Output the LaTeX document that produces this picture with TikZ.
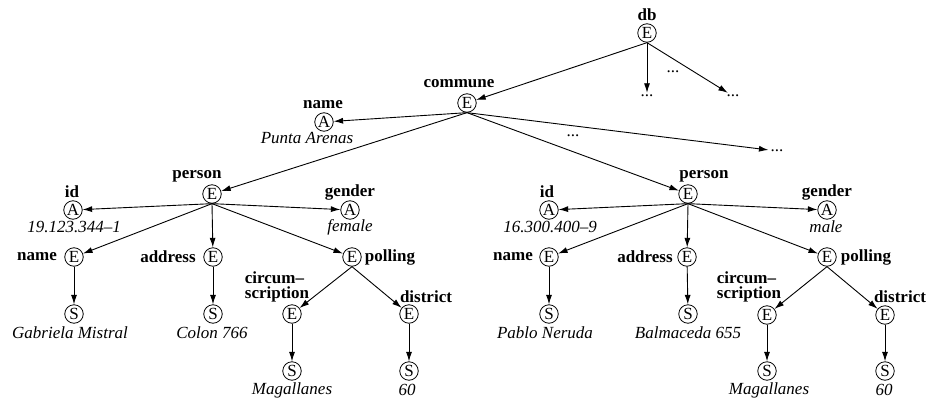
\documentclass[tikz,border=0pt]{standalone}
\usepackage{fontspec}
\setmainfont{Liberation Serif}
\usetikzlibrary{arrows.meta}

\begin{document}
\begin{tikzpicture}[x=1pt,y=-1pt,
    every node/.style={font=\fontsize{17}{17}\selectfont, inner sep=0pt},
    nd/.style={draw, circle, minimum size=18.5pt, line width=0.8pt},
    lb/.style={font=\fontsize{17}{17}\selectfont\bfseries},
    vl/.style={font=\fontsize{17}{17}\selectfont\itshape},
    dots/.style={inner sep=2pt},
    edge/.style={-{Latex[length=9.5pt,width=6pt]}, line width=0.9pt}]
  \useasboundingbox (0,0) rectangle (929,399);

  % root and commune
  \node [nd] (db) at (647,33) {E};
  \node [lb] (dbl) at (647,15) {db};
  \node [dots] (d1) at (647,96) {...};
  \node [dots] (d2) at (733,96) {...};
  \node (d3) at (673,72) {...};
  \node [nd] (commune) at (467,103) {E};
  \node [lb] (communel) at (459,84) {commune};
  \node [dots] (d4) at (777,151) {...};
  \node (d5) at (573,136) {...};
  \node [nd] (cname) at (324,122) {A};
  \node [lb] (cnamel) at (323,105) {name};
  \node [vl] (cnamev) at (307,138) {Punta Arenas};

  % first person
  \node [nd] (pa) at (212,194) {E};
  \node [lb] (pal) at (197,176) {person};
  \node [nd] (paid) at (73,210) {A};
  \node [lb] (paidl) at (72,192) {id};
  \node [vl] (paidv) at (74,227) {19.123.344--1};
  \node [nd] (pagender) at (350,210) {A};
  \node [lb] (pagenderl) at (350,192) {gender};
  \node [vl] (pagenderv) at (350,227) {female};
  \node [nd] (paname) at (74,257) {E};
  \node [lb] (panamel) at (37,257) {name};
  \node [nd] (panames) at (74,314) {S};
  \node [vl] (panamev) at (70,333) {Gabriela Mistral};
  \node [nd] (paaddr) at (213,257) {E};
  \node [lb] (paaddrl) at (168,257) {address};
  \node [nd] (paaddrs) at (213,314) {S};
  \node [vl] (paaddrv) at (212,333) {Colon 766};
  \node [nd] (papoll) at (352,257) {E};
  \node [lb] (papolll) at (390,257) {polling};
  \node [nd] (pacirc) at (292,314) {E};
  \node [lb, align=left] (pacircl) at (277,287) {circum--\\[-2pt]scription};
  \node [nd] (pacircs) at (292,371) {S};
  \node [vl] (pacircv) at (292,390) {Magallanes};
  \node [nd] (padist) at (409,314) {E};
  \node [lb] (padistl) at (426,297) {district};
  \node [nd] (padists) at (409,371) {S};
  \node [vl] (padistv) at (407,390) {60};

  % second person
  \node [nd] (pb) at (688,194) {E};
  \node [lb] (pbl) at (704,176) {person};
  \node [nd] (pbid) at (549,210) {A};
  \node [lb] (pbidl) at (547,192) {id};
  \node [vl] (pbidv) at (550,227) {16.300.400--9};
  \node [nd] (pbgender) at (827,210) {A};
  \node [lb] (pbgenderl) at (827,192) {gender};
  \node [vl] (pbgenderv) at (826,227) {male};
  \node [nd] (pbname) at (549,257) {E};
  \node [lb] (pbnamel) at (513,257) {name};
  \node [nd] (pbnames) at (549,314) {S};
  \node [vl] (pbnamev) at (545,333) {Pablo Neruda};
  \node [nd] (pbaddr) at (687,257) {E};
  \node [lb] (pbaddrl) at (645,257) {address};
  \node [nd] (pbaddrs) at (688,314) {S};
  \node [vl] (pbaddrv) at (688,333) {Balmaceda 655};
  \node [nd] (pbpoll) at (827,257) {E};
  \node [lb] (pbpolll) at (866,257) {polling};
  \node [nd] (pbcirc) at (767,315) {E};
  \node [lb, align=left] (pbcircl) at (749,287) {circum--\\[-2pt]scription};
  \node [nd] (pbcircs) at (767,371) {S};
  \node [vl] (pbcircv) at (769,390) {Magallanes};
  \node [nd] (pbdist) at (885,315) {E};
  \node [lb] (pbdistl) at (900,297) {district};
  \node [nd] (pbdists) at (885,371) {S};
  \node [vl] (pbdistv) at (884,390) {60};

  % edges
  \draw [edge] (db.south) -- (commune);
  \draw [edge] (db.south) -- (d1);
  \draw [edge] (db.south) -- (d2);
  \draw [edge] (commune.south) -- (cname);
  \draw [edge] (commune.south) -- (pa);
  \draw [edge] (commune.south) -- (pb);
  \draw [edge] (commune.south) -- (d4);

  \draw [edge] (pa.south) -- (paid);
  \draw [edge] (pa.south) -- (pagender);
  \draw [edge] (pa.south) -- (paname);
  \draw [edge] (pa.south) -- (paaddr);
  \draw [edge] (pa.south) -- (papoll);
  \draw [edge] (paname) -- (panames);
  \draw [edge] (paaddr) -- (paaddrs);
  \draw [edge] (papoll.south) -- (pacirc);
  \draw [edge] (papoll.south) -- (padist);
  \draw [edge] (pacirc) -- (pacircs);
  \draw [edge] (padist) -- (padists);

  \draw [edge] (pb.south) -- (pbid);
  \draw [edge] (pb.south) -- (pbgender);
  \draw [edge] (pb.south) -- (pbname);
  \draw [edge] (pb.south) -- (pbaddr);
  \draw [edge] (pb.south) -- (pbpoll);
  \draw [edge] (pbname) -- (pbnames);
  \draw [edge] (pbaddr) -- (pbaddrs);
  \draw [edge] (pbpoll.south) -- (pbcirc);
  \draw [edge] (pbpoll.south) -- (pbdist);
  \draw [edge] (pbcirc) -- (pbcircs);
  \draw [edge] (pbdist) -- (pbdists);
\end{tikzpicture}
\end{document}
